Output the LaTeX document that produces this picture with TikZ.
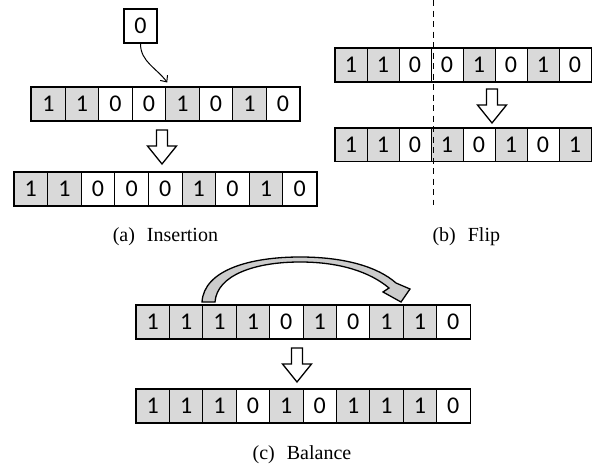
\documentclass[tikz,border=0pt]{standalone}
\usepackage{fontspec}
\setmainfont{Liberation Serif}
\newfontfamily\bitfont{Carlito}
\usepackage{tikz}
\usetikzlibrary{arrows.meta}
\usetikzlibrary{calc}
\definecolor{cellgray}{RGB}{217,217,217}

% una fila de bits: nombre, x izquierda, y centro, ancho de celda, bits
\newcommand{\bitrow}[5]{%
    \foreach \val [count=\i] in {#5} {
        \ifnum\val=1 \def\cellfill{cellgray}\else\def\cellfill{white}\fi
        \node[bit, fill=\cellfill, minimum width=#4pt] (#1-\i) at ({#2+(\i-0.5)*#4}, #3) {\val};
        \xdef\lastcell{\i}
    }
    \draw[rowframe] (#1-1.north west) rectangle (#1-\lastcell.south east);
}

\begin{document}
\begin{tikzpicture}[
        x=1pt, y=-1pt,
        bit/.style={draw, line width=1pt, minimum height=33pt, inner sep=0pt,
            font=\bitfont\fontsize{24}{24}\selectfont},
        rowframe/.style={draw, line width=1.7pt},
        caption/.style={anchor=base, font=\fontsize{20}{20}\selectfont},
        downarrow/.pic={
            \draw[line width=1.3pt, fill=white, line join=miter]
                (-5.5,0) -- (-5.5,16) -- (-14.5,16) -- (0,34) -- (14.5,16) -- (5.5,16) -- (5.5,0) -- cycle;
        }
    ]
    \useasboundingbox (0,0) rectangle (603,471);

    % --- (a) Insercion ---
    \node[bit, line width=1.7pt, minimum width=33pt, minimum height=34pt] (ins) at (140.5,26) {0};
    \bitrow{a1}{31.7}{104}{33.5}{1,1,0,0,1,0,1,0}
    \bitrow{a2}{14}{189}{33.6}{1,1,0,0,0,1,0,1,0}
    \draw[line width=1pt, -{Straight Barb[length=5pt, width=9pt]}]
        (ins.south) .. controls +(0,18) and +(-10,-14) .. ($(a1-4.north east)+(1,-4.5)$);
    \pic at (162,130) {downarrow};
    \node[caption] (capA) at (165.4,241) {(a)\hspace{0.6em}Insertion};

    % --- (b) Volteo ---
    \bitrow{b1}{335}{65}{32}{1,1,0,0,1,0,1,0}
    \bitrow{b2}{335}{144.5}{32}{1,1,0,1,0,1,0,1}
    \coordinate (cut) at ($(b1-3.north east)+(2,0)$);
    \draw[line width=1pt, dash pattern=on 6pt off 4.5pt]
        (cut |- 0,0) -- (cut |- 0,205);
    \pic at (492,89) {downarrow};
    \node[caption] (capB) at (466.3,241) {(b)\hspace{0.6em}Flip};

    % --- (c) Balance ---
    \bitrow{c1}{136}{322}{33.4}{1,1,1,1,0,1,0,1,1,0}
    \bitrow{c2}{136}{406}{33.4}{1,1,1,0,1,0,1,1,1,0}
    % flecha curva gruesa sobre la fila
    \draw[line width=1.3pt, fill=black!20, line join=miter]
        (202,302) .. controls (204,270) and (250,257) .. (300,257)
        .. controls (345,257) and (378,267) .. (396,283)
        -- (410,289) -- (401,302) -- (383,292) -- (389,288)
        .. controls (370,272) and (340,262) .. (300,262)
        .. controls (255,262) and (217,275) .. (215,302) -- cycle;
    \pic at (297,348) {downarrow};
    \node[caption] (capC) at (302,459) {(c)\hspace{0.6em}Balance};
\end{tikzpicture}
\end{document}
